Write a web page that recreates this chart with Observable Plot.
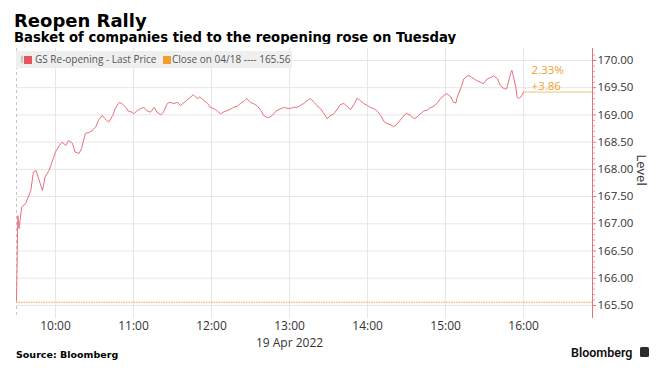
<!DOCTYPE html>
<html><head><meta charset="utf-8">
<script src="https://cdn.jsdelivr.net/npm/d3@7"></script>
<script src="https://cdn.jsdelivr.net/npm/@observablehq/plot@0.6"></script>
<style>
body{margin:0;background:#fff;width:662px;height:372px;position:relative;overflow:hidden;}
.abs{position:absolute;white-space:nowrap;}
#title{left:14px;top:12px;font:bold 18px/18px "DejaVu Sans";color:#000;}
#subtitle{left:14px;top:30.5px;font:bold 13.2px/13.2px "DejaVu Sans";color:#000;}
#chart{left:0;top:44px;}
#legend{left:16px;top:51px;width:276px;height:17px;background:#efefef;font:10px/17px "Open Sans";color:#555;}
#legend span{position:absolute;}
#source{left:16px;top:349.5px;font:bold 9.5px/9.5px "DejaVu Sans";color:#000;}
#logo{left:571px;top:346.8px;font:600 12.5px/12.5px Roboto;color:#111;}
#icon{left:640px;top:347px;width:9px;height:10px;background:#2b2b2b;border-radius:1.5px;}
</style></head><body>
<div id="title" class="abs">Reopen Rally</div>
<div id="subtitle" class="abs">Basket of companies tied to the reopening rose on Tuesday</div>
<div id="chart" class="abs"></div>
<div id="legend" class="abs">
  <span style="left:5px;top:5px;width:2px;height:7px;background:#c8c8c8"></span>
  <span style="left:8px;top:5px;width:8px;height:8px;background:#e8545c"></span>
  <span style="left:19px;top:0">GS Re-opening - Last Price</span>
  <span style="left:147px;top:5px;width:8px;height:8px;background:#f0a030"></span>
  <span style="left:156px;top:0">Close on 04/18 ---- 165.56</span>
</div>
<div id="source" class="abs">Source: Bloomberg</div>
<div id="logo" class="abs">Bloomberg</div>
<div id="icon" class="abs"></div>
<script>
const day = "2022-04-19";
const times = ["09:30","09:31","09:32","09:34","09:37","09:39","09:41","09:43","09:45","09:47","09:50","09:52","09:55","09:57",
"10:00","10:03","10:05","10:08","10:10","10:13","10:15","10:18","10:20","10:23","10:26","10:28","10:31","10:33","10:36","10:38","10:41","10:44","10:46","10:49","10:51","10:54","10:56","10:59",
"11:00","11:03","11:05","11:08","11:10","11:13","11:16","11:18","11:21","11:23","11:26","11:28","11:31","11:34","11:36","11:39","11:41","11:44","11:46","11:49","11:51","11:54","11:57","11:59",
"12:02","12:04","12:07","12:09","12:12","12:15","12:17","12:20","12:22","12:25","12:27","12:30","12:32","12:35","12:38","12:40","12:43","12:45","12:48","12:50","12:53","12:56","12:58",
"13:01","13:03","13:06","13:08","13:11","13:14","13:16","13:19","13:21","13:24","13:26","13:29","13:31","13:34","13:37","13:39","13:42","13:44","13:47","13:50","13:52","13:55","13:57",
"14:00","14:02","14:05","14:07","14:10","14:13","14:15","14:18","14:20","14:23","14:25","14:28","14:30","14:33","14:36","14:38","14:41","14:43","14:46","14:48","14:51","14:54","14:56","14:59",
"15:01","15:04","15:06","15:08","15:09","15:12","15:14","15:17","15:19","15:22","15:24","15:27","15:29","15:32","15:35","15:37","15:40","15:42","15:45","15:47","15:50","15:51","15:52","15:54","15:55","15:56","15:58","16:00"];
const prices = [165.60,167.15,166.91,167.31,167.37,167.49,167.61,167.95,167.98,167.83,167.61,167.86,167.98,168.11,
168.32,168.44,168.50,168.44,168.53,168.48,168.32,168.29,168.38,168.66,168.68,168.71,168.78,168.90,168.99,168.93,168.87,168.99,169.12,169.23,169.21,169.14,169.07,169.05,
169.02,169.08,169.11,169.14,169.08,169.05,169.14,169.05,169.00,169.05,169.21,169.23,169.21,169.23,169.17,169.23,169.27,169.33,169.37,169.30,169.33,169.27,169.21,169.14,
169.11,169.08,169.02,169.05,169.08,169.11,169.14,169.16,169.21,169.25,169.30,169.23,169.21,169.17,169.08,168.99,168.95,168.96,169.02,169.08,169.11,169.14,169.12,
169.12,169.14,169.14,169.17,169.21,169.27,169.30,169.23,169.17,169.11,169.04,168.93,168.98,169.02,169.11,169.19,169.21,169.16,169.10,169.21,169.31,169.25,169.21,
169.17,169.14,169.11,169.08,168.99,168.87,168.84,168.82,168.78,168.84,168.90,168.99,169.03,168.99,168.93,168.96,169.03,169.07,169.09,169.13,169.16,169.23,169.30,169.36,
169.39,169.33,169.23,169.22,169.33,169.51,169.66,169.72,169.71,169.66,169.63,169.60,169.57,169.66,169.69,169.72,169.66,169.54,169.48,169.48,169.76,169.82,169.72,169.51,169.33,169.30,169.33,169.42];
const closeValue = 165.56;
const yTicks = [165.5,166,166.5,167,167.5,168,168.5,169,169.5,170];
const yMinorTicks = [165.6,165.7,165.8,165.9,166.1,166.2,166.3,166.4,166.6,166.7,166.8,166.9,167.1,167.2,167.3,167.4,167.6,167.7,167.8,167.9,168.1,168.2,168.3,168.4,168.6,168.7,168.8,168.9,169.1,169.2,169.3,169.4,169.6,169.7,169.8,169.9,170.1];
const xTickLabels = ["10:00","11:00","12:00","13:00","14:00","15:00","16:00"];
const xDomain = ["09:30","16:53"];
const yDomain = [165.26,170.22];
const dateLabel = "19 Apr 2022";
const dateLabelTick = "13:00";

const parse = s => new Date(`${day}T${s}:00`);
const data = times.map((t,i)=>({date: parse(t), value: prices[i]}));
const last = data[data.length-1];
const x0 = parse(xDomain[0]), x1 = parse(xDomain[1]);
const xTicks = xTickLabels.map(parse);
const diff = last.value - closeValue;
const pctText = (diff/closeValue*100).toFixed(2) + "%";
const diffText = (diff>=0?"+":"") + diff.toFixed(2);
const fmt = d3.timeFormat("%H:%M");
const chart = Plot.plot({
  width: 662, height: 310,
  marginLeft: 16, marginRight: 70, marginTop: 4, marginBottom: 36,
  x: {type: "time", domain: [x0, x1]},
  y: {domain: yDomain},
  style: {fontFamily: "Open Sans", fontSize: "12px", color: "#333", background: "white", overflow: "visible"},
  marks: [
    Plot.gridY(yTicks, {stroke: "#e6e6e6", strokeOpacity: 1}),
    Plot.gridX(xTicks, {stroke: "#e6e6e6", strokeOpacity: 1}),
    Plot.ruleX([x0], {stroke: "#c4c4c4", strokeDasharray: "3,3"}),
    Plot.ruleY([closeValue], {stroke: "#f0a030", strokeDasharray: "1.5,1"}),
    Plot.ruleY([{y: last.value, a: last.date, b: x1}], {y: "y", x1: "a", x2: "b", stroke: "#f6c26a"}),
    Plot.lineY(data, {x: "date", y: "value", stroke: "#e9707a", strokeWidth: 1}),
    Plot.text([last], {x: "date", y: "value", text: () => pctText, dx: 8, dy: -21.5, textAnchor: "start", fill: "#f0a030", fontSize: 11.5}),
    Plot.text([last], {x: "date", y: "value", text: () => diffText, dx: 8, dy: -5.5, textAnchor: "start", fill: "#f0a030", fontSize: 11.5}),
    Plot.axisY(yMinorTicks, {anchor: "right", tickSize: 2, stroke: "#ec9aa0", text: null, label: null}),
    Plot.axisY(yTicks, {anchor: "right", tickSize: 3, tickPadding: 2, tickFormat: d => d.toFixed(2), stroke: "#e8707a", fill: "#333", fontSize: 11.5, label: null}),
    Plot.axisX(xTicks, {tickSize: 0, tickPadding: 3, tickFormat: fmt, fill: "#333", fontSize: 12, label: null}),
    Plot.text([dateLabel], {x: parse(dateLabelTick), frameAnchor: "bottom", dy: 28.5, fill: "#333", fontSize: 12}),
    Plot.ruleX([x1], {stroke: "#e8707a"}),
    Plot.text(["Level"], {y: 167.7, frameAnchor: "right", dx: 49, rotate: 90, fill: "#333", fontSize: 13})
  ]
});
document.getElementById("chart").appendChild(chart);
</script>
</body></html>
